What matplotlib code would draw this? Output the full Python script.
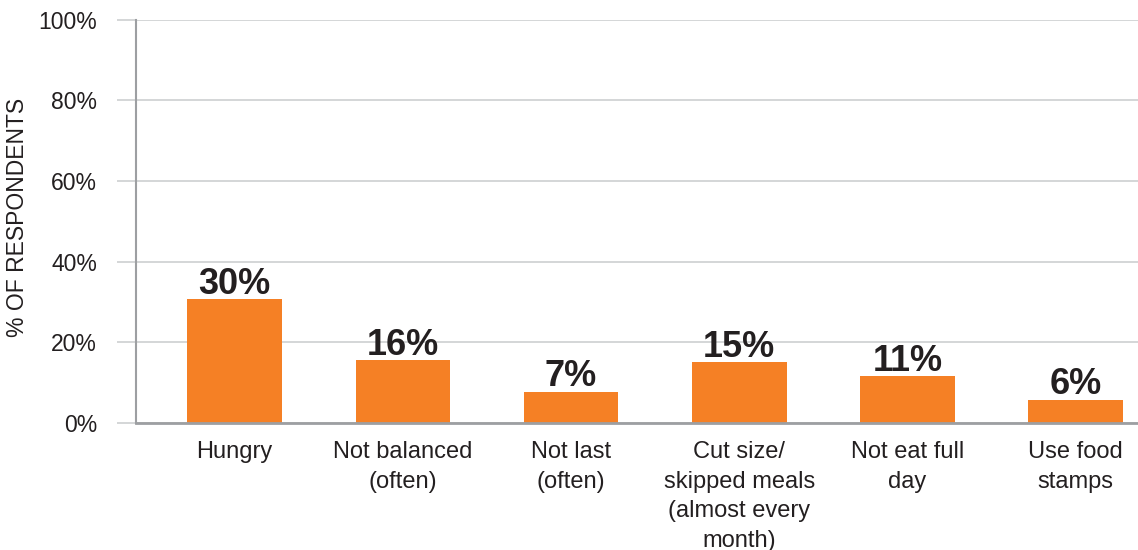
import matplotlib.pyplot as plt
import numpy as np

categories = ['Hungry', 'Not balanced\n(often)', 'Not last\n(often)',
              'Cut size/\nskipped meals\n(almost every\nmonth)', 'Not eat full\nday',
              'Use food\nstamps']
values = [30.7, 15.6, 7.8, 15.1, 11.6, 5.7]
value_labels = ['30%', '16%', '7%', '15%', '11%', '6%']
y_ticks = [0, 20, 40, 60, 80, 100]
y_tick_labels = ['0%', '20%', '40%', '60%', '80%', '100%']

plt.rcParams['font.family'] = ['Liberation Sans', 'DejaVu Sans']
text_color = '#231f20'
grid_color = '#d1d3d4'

fig = plt.figure(figsize=(11.38, 5.5), dpi=100)
ax = fig.add_axes([0.1195, 0.2309, 0.8805, 0.7336])

x = np.arange(len(categories))
bars = ax.bar(x, values, width=0.562, color='#f58025', zorder=3)

for rect, lab in zip(bars, value_labels):
    ax.annotate(lab, (rect.get_x() + rect.get_width() / 2, rect.get_height()),
                xytext=(0, 4), textcoords='offset points', ha='center', va='baseline',
                fontsize=26, fontweight='bold', color=text_color)

ax.set_xlim(-0.586, 5.37)
ax.set_ylim(0, 100)
ax.set_yticks(y_ticks)
ax.set_yticklabels(y_tick_labels)
ax.set_xticks(x)
ax.set_xticklabels(categories, linespacing=1.44)

ax.yaxis.grid(True, color=grid_color, linewidth=1.3, zorder=0)
ax.tick_params(axis='y', length=14, width=1.3, color=grid_color, pad=14,
               labelsize=16.5, labelcolor=text_color)
ax.tick_params(axis='x', length=0, pad=13, labelsize=17, labelcolor=text_color)

for s in ['top', 'right']:
    ax.spines[s].set_visible(False)
ax.spines['left'].set_color('#9d9fa2')
ax.spines['left'].set_linewidth(1.5)
ax.spines['bottom'].set_color('#9d9fa2')
ax.spines['bottom'].set_linewidth(2)
ax.spines['bottom'].set_zorder(4)

ax.set_ylabel('% OF RESPONDENTS', fontsize=16.5, color=text_color, va='center')
ax.yaxis.set_label_coords(-0.118, 0.51)

plt.savefig('out.png', dpi=100)
